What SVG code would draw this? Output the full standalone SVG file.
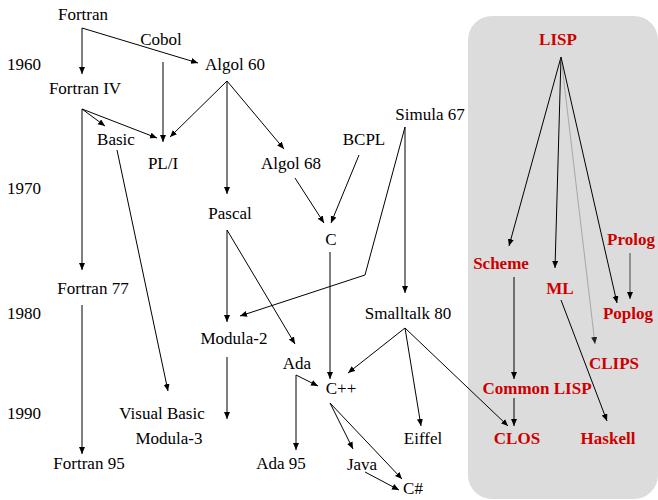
<svg xmlns="http://www.w3.org/2000/svg" width="658" height="500" viewBox="0 0 658 500">
<style>
text{font-family:"Liberation Serif","Times New Roman",serif;font-size:17px;fill:#000;text-anchor:middle}
.yr{text-anchor:start}
.lisp text{font-weight:bold;fill:#cc0000}
.c line,.c polyline{stroke:#000;stroke-width:1;fill:none;marker-end:url(#ah)}
.c .thin{stroke:#999;stroke-width:0.8;marker-end:url(#ah2)}
.c .gray{stroke:#666;stroke-width:1.3}
</style>
<defs>
<marker id="ah" markerUnits="userSpaceOnUse" markerWidth="8" markerHeight="8" refX="7" refY="3" orient="auto"><path d="M0,0 L7,3 L0,6 z" fill="#000"/></marker>
<marker id="ah2" markerUnits="userSpaceOnUse" markerWidth="8" markerHeight="8" refX="7" refY="3" orient="auto"><path d="M0,0 L7,3 L0,6 z" fill="#222"/></marker>
</defs>
<rect id="lisp-region" x="468" y="16" width="190" height="483" rx="24" fill="#dcdcdc"/>
<g id="years">
<text class="yr" x="7" y="70">1960</text>
<text class="yr" x="7" y="194">1970</text>
<text class="yr" x="7" y="319">1980</text>
<text class="yr" x="7" y="419">1990</text>
</g>
<g class="c" id="connectors">
<line x1="82" y1="28" x2="82" y2="74"/>
<line x1="82" y1="28" x2="198" y2="63"/>
<line x1="163" y1="62" x2="163" y2="142"/>
<line x1="82" y1="109" x2="105" y2="126"/>
<line x1="82" y1="109" x2="157" y2="138"/>
<line x1="82" y1="109" x2="82" y2="270"/>
<line x1="227" y1="81" x2="170" y2="137"/>
<line x1="227" y1="81" x2="227" y2="194"/>
<line x1="227" y1="81" x2="284" y2="149"/>
<line x1="295" y1="178" x2="324" y2="223"/>
<line x1="359" y1="155" x2="331" y2="223"/>
<polyline points="405,127 365,275 240,316"/>
<line x1="405" y1="127" x2="405" y2="293"/>
<line x1="330" y1="252" x2="330" y2="379"/>
<line x1="227" y1="230" x2="227" y2="322"/>
<line x1="227" y1="230" x2="295" y2="344"/>
<line x1="117" y1="150" x2="168" y2="391"/>
<line x1="82" y1="305" x2="82" y2="454"/>
<line x1="227" y1="357" x2="227" y2="419"/>
<line x1="296" y1="375" x2="318" y2="386"/>
<line x1="296" y1="375" x2="296" y2="450"/>
<line x1="405" y1="328" x2="348" y2="373"/>
<line x1="405" y1="328" x2="421" y2="426"/>
<line x1="405" y1="328" x2="508" y2="426"/>
<line x1="330" y1="403" x2="353" y2="449"/>
<line x1="330" y1="403" x2="402" y2="479"/>
<line x1="365" y1="472" x2="399" y2="490"/>
<line x1="561" y1="57" x2="509" y2="246"/>
<line x1="561" y1="57" x2="555" y2="268"/>
<line class="thin" x1="561" y1="57" x2="595" y2="344"/>
<line x1="561" y1="57" x2="617" y2="303"/>
<line class="gray" x1="630" y1="253" x2="630" y2="299"/>
<line x1="514" y1="277" x2="514" y2="379"/>
<line x1="514" y1="398" x2="514" y2="426"/>
<line x1="561" y1="300" x2="607" y2="421"/>
</g>
<g id="fortran"><text x="83" y="20">Fortran</text></g>
<g id="cobol"><text x="161" y="45">Cobol</text></g>
<g id="algol60"><text x="235" y="70">Algol 60</text></g>
<g id="fortran4"><text x="85" y="94">Fortran IV</text></g>
<g id="basic"><text x="116" y="145">Basic</text></g>
<g id="pl1"><text x="163" y="169">PL/I</text></g>
<g id="algol68"><text x="291" y="169">Algol 68</text></g>
<g id="bcpl"><text x="364" y="145">BCPL</text></g>
<g id="simula67"><text x="430" y="120">Simula 67</text></g>
<g id="pascal"><text x="230" y="219">Pascal</text></g>
<g id="c"><text x="331" y="245">C</text></g>
<g id="fortran77"><text x="93" y="294">Fortran 77</text></g>
<g id="smalltalk80"><text x="408" y="319">Smalltalk 80</text></g>
<g id="modula2"><text x="234" y="344">Modula-2</text></g>
<g id="ada"><text x="297" y="369">Ada</text></g>
<g id="cpp"><text x="341" y="394">C++</text></g>
<g id="visualbasic"><text x="162" y="419">Visual Basic</text></g>
<g id="modula3"><text x="169" y="444">Modula-3</text></g>
<g id="eiffel"><text x="423" y="444">Eiffel</text></g>
<g id="fortran95"><text x="89" y="469">Fortran 95</text></g>
<g id="ada95"><text x="281" y="469">Ada 95</text></g>
<g id="java"><text x="362" y="470">Java</text></g>
<g id="csharp"><text x="413" y="494">C#</text></g>
<g class="lisp">
<g id="lisp"><text x="558" y="45">LISP</text></g>
<g id="prolog"><text x="631" y="245">Prolog</text></g>
<g id="scheme"><text x="501" y="269">Scheme</text></g>
<g id="ml"><text x="560" y="294">ML</text></g>
<g id="poplog"><text x="628" y="319">Poplog</text></g>
<g id="clips"><text x="614" y="369">CLIPS</text></g>
<g id="commonlisp"><text x="537" y="394">Common LISP</text></g>
<g id="clos"><text x="517" y="444">CLOS</text></g>
<g id="haskell"><text x="608" y="444">Haskell</text></g>
</g>
</svg>
